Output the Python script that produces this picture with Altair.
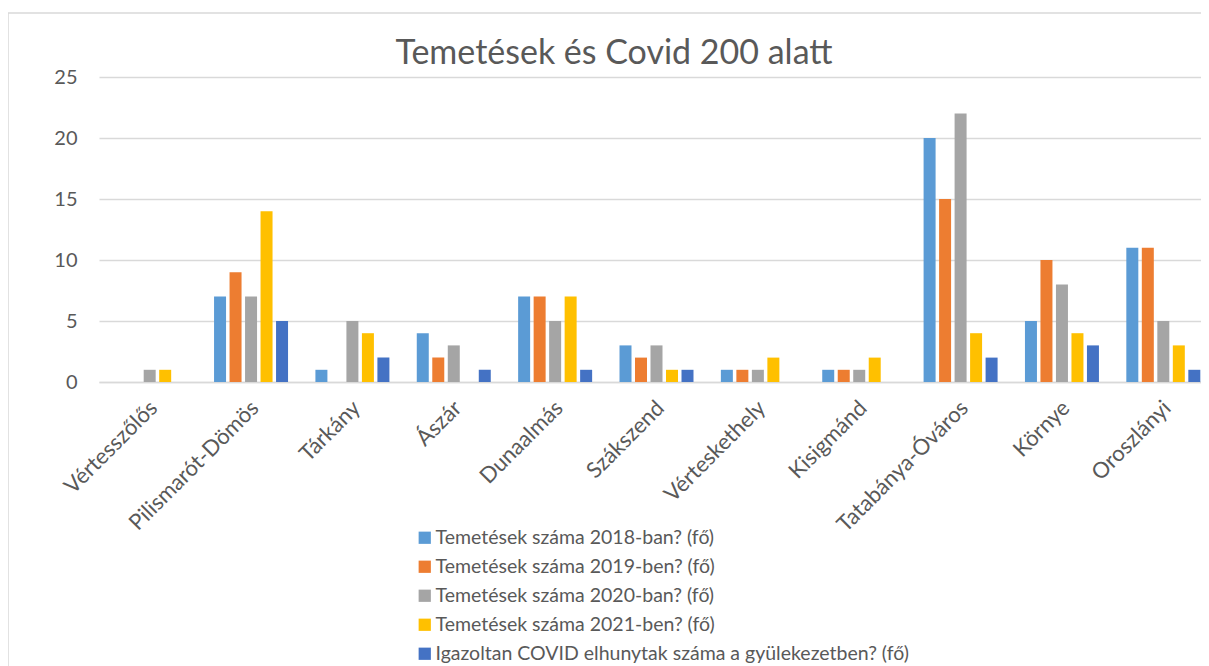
import altair as alt
import pandas as pd

categories = ["Vértesszőlős", "Pilismarót-Dömös", "Tárkány", "Ászár", "Dunaalmás",
              "Szákszend", "Vérteskethely", "Kisigmánd", "Tatabánya-Óváros", "Környe", "Oroszlányi"]
series_names = ["Temetések száma 2018-ban? (fő)",
                "Temetések száma 2019-ben? (fő)",
                "Temetések száma 2020-ban? (fő)",
                "Temetések száma 2021-ben? (fő)",
                "Igazoltan COVID elhunytak száma a gyülekezetben? (fő)"]
v2018 = [0, 7, 1, 4, 7, 3, 1, 1, 20, 5, 11]
v2019 = [0, 9, 0, 2, 7, 2, 1, 1, 15, 10, 11]
v2020 = [1, 7, 5, 3, 5, 3, 1, 1, 22, 8, 5]
v2021 = [1, 14, 4, 0, 7, 1, 2, 2, 4, 4, 3]
covid = [0, 5, 2, 1, 1, 1, 0, 0, 2, 3, 1]
colors = ["#5B9BD5", "#ED7D31", "#A5A5A5", "#FFC000", "#4472C4"]

rows = []
for s, vals in zip(series_names, [v2018, v2019, v2020, v2021, covid]):
    for c, v in zip(categories, vals):
        rows.append({"Település": c, "Sorozat": s, "Érték": v})
df = pd.DataFrame(rows)

FONT = "Lato"
W = 1102

bars = alt.Chart(df).mark_bar().encode(
    x=alt.X("Település:N", sort=categories, title=None,
            scale=alt.Scale(paddingInner=0.27, paddingOuter=0.135, range=[0, 1115]),
            axis=alt.Axis(labelAngle=-45, labelFontSize=22, labelColor="#595959",
                          labelFont=FONT, ticks=False, domainColor="#D9D9D9",
                          domainWidth=1.5, labelPadding=15, labelOffset=-3, grid=False)),
    xOffset=alt.XOffset("Sorozat:N", sort=series_names,
                        scale=alt.Scale(paddingInner=0.226)),
    y=alt.Y("Érték:Q", title=None,
            scale=alt.Scale(domain=[0, 25]),
            axis=alt.Axis(values=[0, 5, 10, 15, 20, 25], labelFontSize=20,
                          labelColor="#595959", labelFont=FONT, ticks=False,
                          domain=False, gridColor="#D9D9D9", gridWidth=1.5,
                          labelPadding=22)),
    color=alt.Color("Sorozat:N", sort=series_names,
                    scale=alt.Scale(domain=series_names, range=colors),
                    legend=alt.Legend(title=None, orient="none", legendX=316, legendY=451,
                                      symbolType="square", symbolSize=150,
                                      symbolStrokeWidth=0, labelFontSize=19.5,
                                      labelFont=FONT, labelColor="#595959",
                                      rowPadding=8, labelOffset=1,
                                      labelLimit=700)),
)

border_df = pd.DataFrame({"a": [0]})
border = alt.Chart(border_df).mark_rect(fill=None, stroke="#D9D9D9", strokeWidth=1.5).encode(
    x=alt.value(-91), x2=alt.value(1130), y=alt.value(-64), y2=alt.value(620)
)

title_df = pd.DataFrame({"t": ["Temetések és Covid 200 alatt"]})
title = alt.Chart(title_df).mark_text(fontSize=34, font=FONT, color="#595959",
                                      baseline="alphabetic", align="center").encode(
    text="t:N", x=alt.value(515), y=alt.value(-13)
)

chart = alt.layer(border, bars, title).properties(
    width=W, height=305,
    autosize=alt.AutoSizeParams(type="none"),
    padding={"left": 91, "top": 69, "right": 0, "bottom": 284},
).configure_view(stroke=None)

chart.save("out.html", embed_options={"renderer": "svg", "actions": False})
